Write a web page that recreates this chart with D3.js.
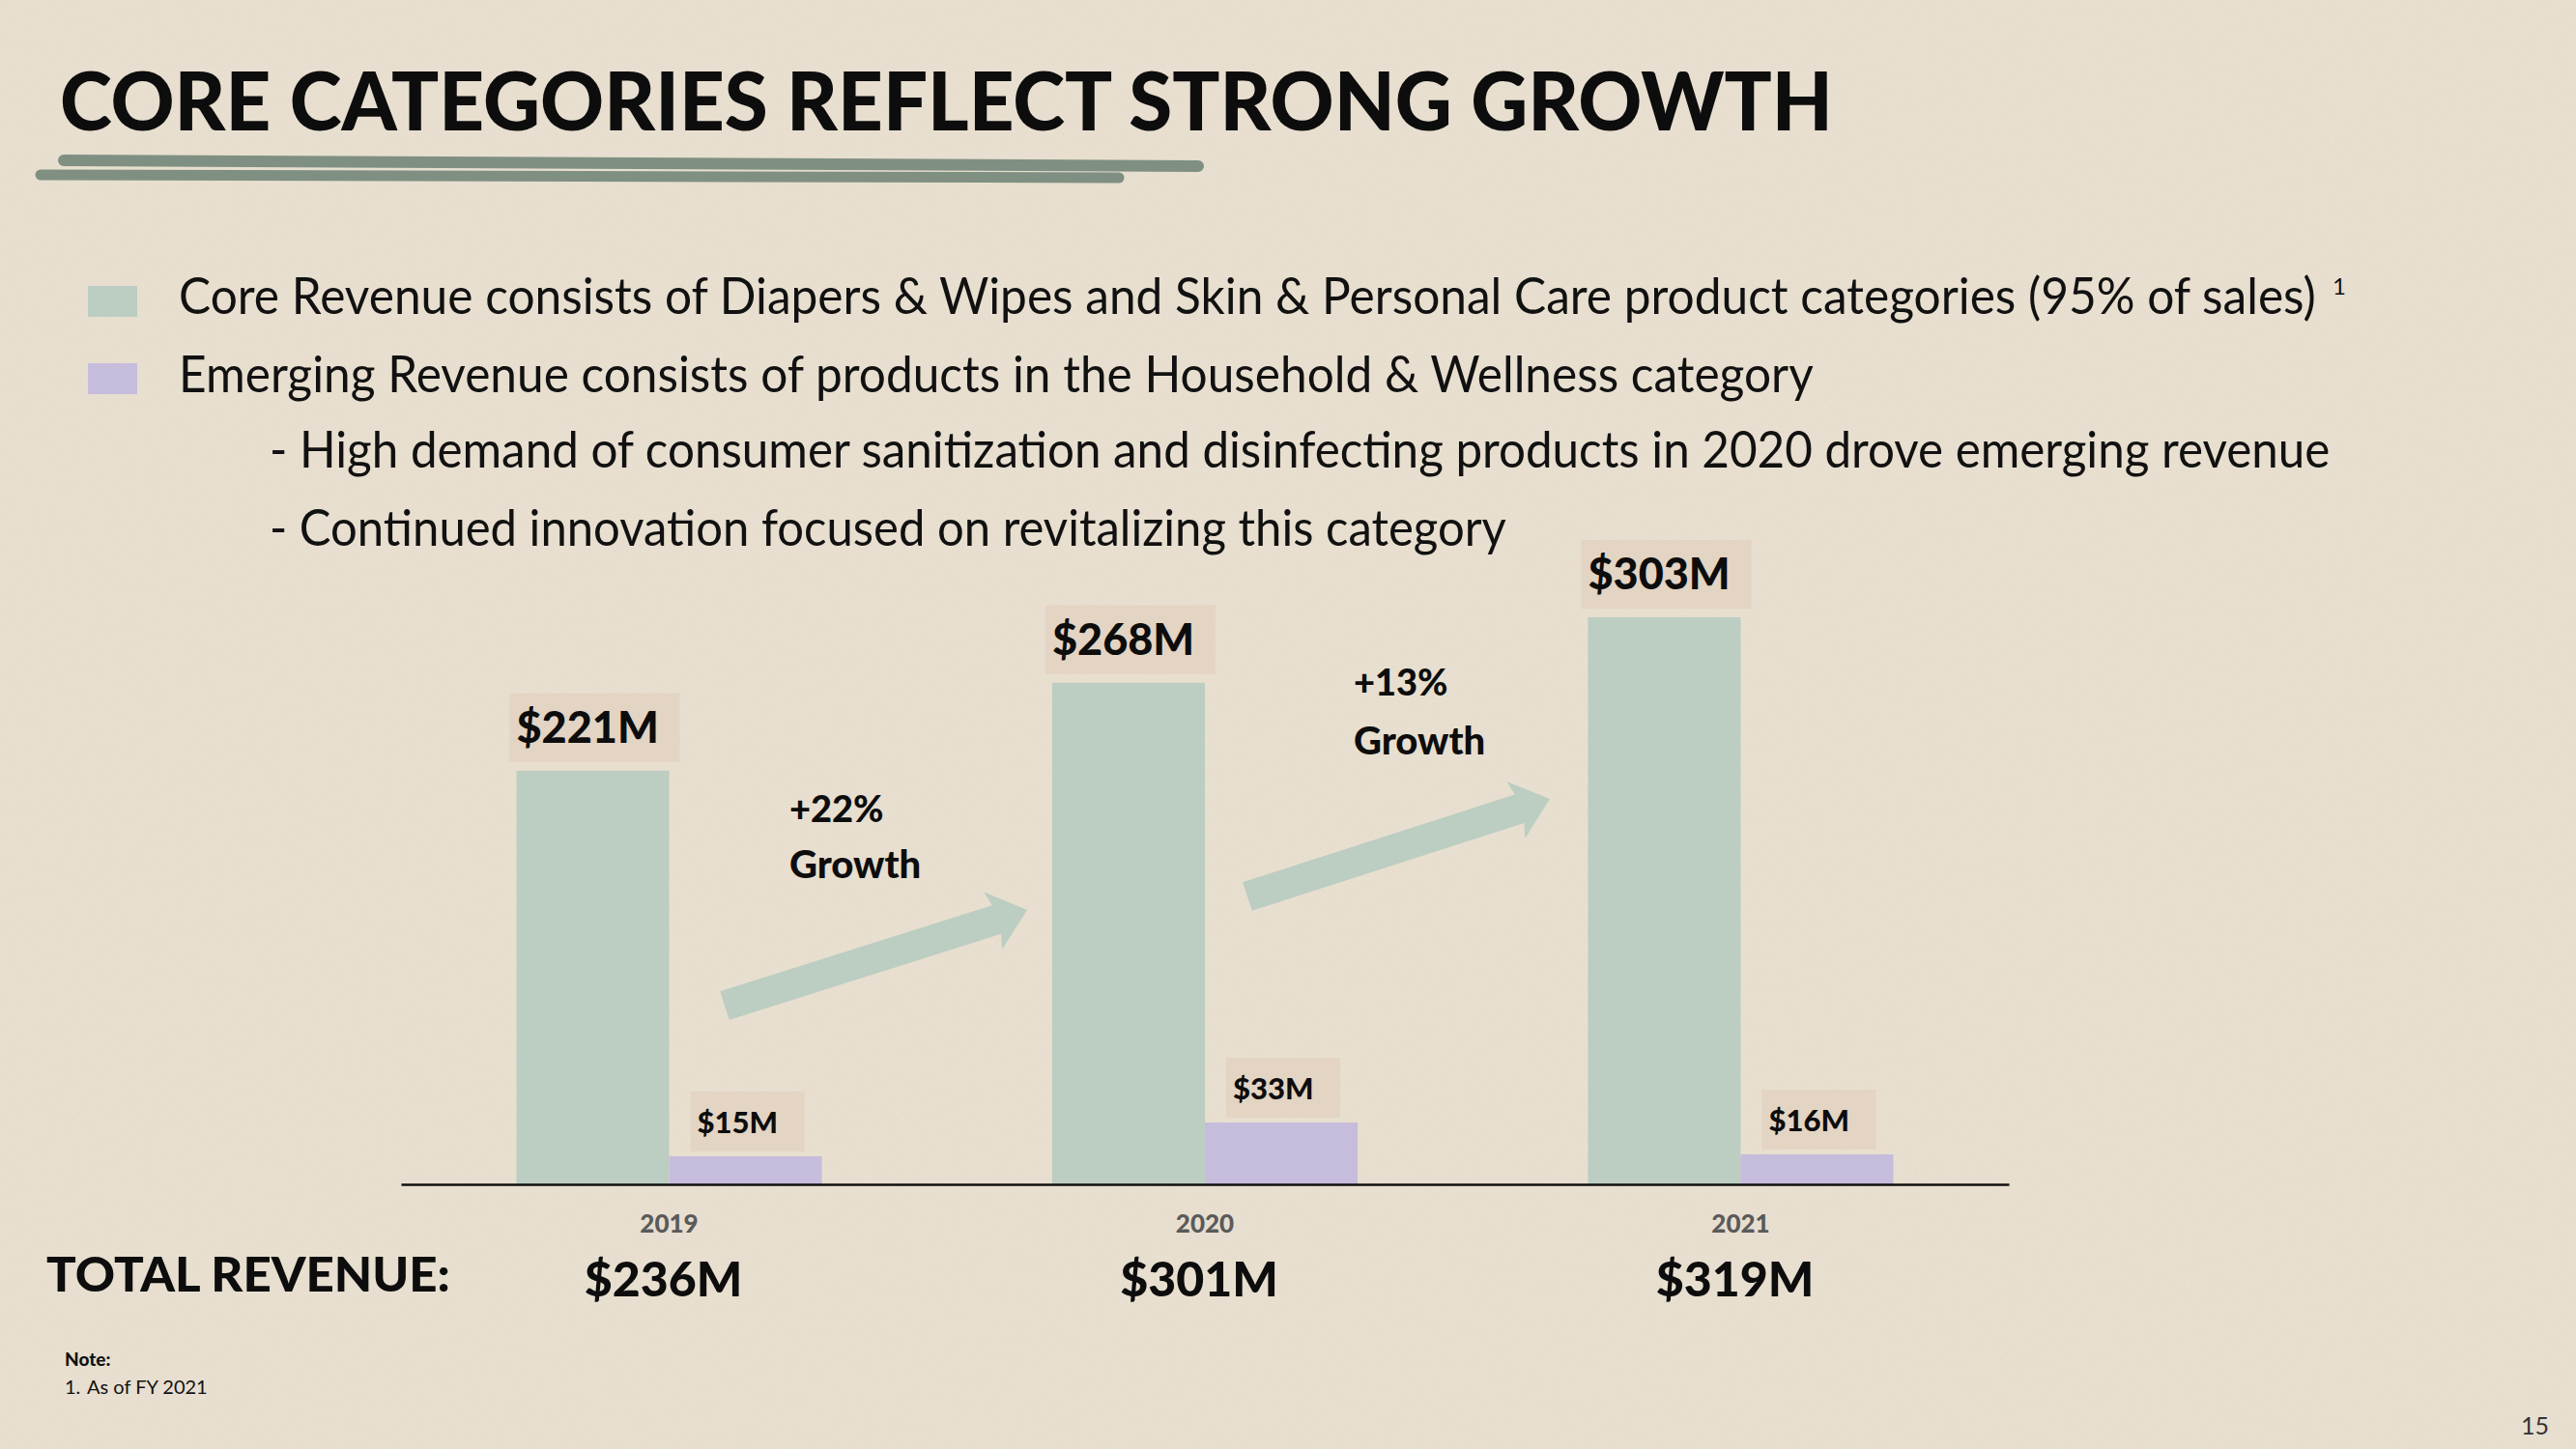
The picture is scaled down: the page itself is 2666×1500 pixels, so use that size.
<!DOCTYPE html>
<html>
<head>
<meta charset="utf-8">
<script src="https://cdn.jsdelivr.net/npm/d3@7"></script>
<style>
  html, body { margin: 0; padding: 0; background: #e9e0d0; }
  svg { display: block; }
</style>
</head>
<body>
<script>
// ---------------- DATA ----------------
const years = ["2019", "2020", "2021"];
const coreRevenue = [221, 268, 303];
const emergingRevenue = [15, 33, 16];
const totalRevenue = [236, 301, 319];
const growthRates = ["+22%", "+13%"];
const seriesKeys = ["core", "emerging"];
const seriesNames = ["Core Revenue", "Emerging Revenue"];
const titleText = "CORE CATEGORIES REFLECT STRONG GROWTH";
const bulletLines = [
  "Core Revenue consists of Diapers & Wipes and Skin & Personal Care product categories (95% of sales)",
  "Emerging Revenue consists of products in the Household & Wellness category",
  "- High demand of consumer sanitization and disinfecting products in 2020 drove emerging revenue",
  "- Continued innovation focused on revitalizing this category"
];
const totalLabel = "TOTAL REVENUE:";
const noteTitle = "Note:";
const noteLines = ["1.", "As of FY 2021"];
const pageNumber = "15";

// ---------------- LAYOUT ----------------
const W = 2666, H = 1500;
const BG = "#e9e0d0";
const CORE = "#bccdc2", EMER = "#c6bcdc", BOX = "#e3d4c3";
const fmt = v => `$${v}M`;

const svg = d3.select("body").append("svg").attr("width", W).attr("height", H);
const defs = svg.append("defs");
const filt = defs.append("filter").attr("id", "tex").attr("x", 0).attr("y", 0)
  .attr("width", "100%").attr("height", "100%");
filt.append("feTurbulence").attr("type", "fractalNoise").attr("baseFrequency", "0.9 0.35")
  .attr("numOctaves", 2).attr("seed", 4).attr("result", "n");
filt.append("feColorMatrix").attr("type", "saturate").attr("values", 0);

svg.append("rect").attr("width", W).attr("height", H).attr("fill", BG);
svg.append("rect").attr("width", W).attr("height", H).attr("filter", "url(#tex)").attr("opacity", 0.07);

// place text at (x,y) and horizontally scale it to a target width
function fitText(sel, x, yy, width) {
  sel.each(function () {
    const n = this.getComputedTextLength();
    const sx = n > 0 ? width / n : 1;
    d3.select(this).attr("x", 0).attr("y", 0)
      .attr("transform", `translate(${x},${yy}) scale(${sx.toFixed(4)},1)`);
  });
}

// Title
svg.append("text")
  .attr("font-family", "Lato").attr("font-weight", 900).attr("font-size", 84)
  .attr("fill", "#0d0d0d").text(titleText).call(fitText, 62, 135, 1835);

// Brush underline
const brush = svg.append("g").attr("stroke", "#7f9082").attr("stroke-linecap", "round").attr("fill", "none");
brush.append("path").attr("d", "M66,166 C400,168 900,170 1240,172").attr("stroke-width", 12);
brush.append("path").attr("d", "M42,181 C400,182 800,183 1158,184").attr("stroke-width", 11);

// Legend squares + bullet text
const legendColor = d3.scaleOrdinal().domain(seriesNames).range([CORE, EMER]);
svg.selectAll("rect.leg").data(seriesNames).join("rect").attr("class", "leg")
  .attr("x", 91).attr("y", (d, i) => 296 + i * 80).attr("width", 51).attr("height", 32)
  .attr("fill", d => legendColor(d));

const bulletPos = [
  { x: 185, y: 325, w: 2212 },
  { x: 185, y: 406, w: 1692 },
  { x: 279, y: 484, w: 2133 },
  { x: 279, y: 565, w: 1280 }
];
svg.selectAll("text.bullet").data(bulletLines).join("text").attr("class", "bullet")
  .attr("font-family", "Lato").attr("font-weight", 400).attr("font-size", 53)
  .attr("fill", "#111").text(d => d)
  .each(function (d, i) { d3.select(this).call(fitText, bulletPos[i].x, bulletPos[i].y, bulletPos[i].w); });
svg.append("text").attr("x", 2414).attr("y", 305).attr("font-family", "Lato").attr("font-weight", 400)
  .attr("font-size", 24).attr("fill", "#111").text("1");

// ---------------- CHART ----------------
const x0 = d3.scaleBand().domain(years).range([415, 2079]).paddingInner(0.43).paddingOuter(0.2155);
const x1 = d3.scaleBand().domain(seriesKeys).range([0, x0.bandwidth()]).padding(0);
const y = d3.scaleLinear().domain([0, 303]).range([1226, 639]);
const color = d3.scaleOrdinal().domain(seriesKeys).range([CORE, EMER]);

const rows = years.map((yr, i) => ({ year: yr, core: coreRevenue[i], emerging: emergingRevenue[i], total: totalRevenue[i] }));

const groups = svg.append("g").selectAll("g.grp").data(rows).join("g").attr("class", "grp")
  .attr("transform", d => `translate(${x0(d.year)},0)`);

groups.selectAll("rect.bar").data(d => seriesKeys.map(k => ({ key: k, value: d[k] }))).join("rect")
  .attr("class", "bar")
  .attr("x", d => x1(d.key)).attr("y", d => y(d.value))
  .attr("width", x1.bandwidth()).attr("height", d => y(0) - y(d.value))
  .attr("fill", d => color(d.key));

// Core labels
groups.append("rect")
  .attr("x", x1("core") - 7).attr("y", d => y(d.core) - 80)
  .attr("width", 176).attr("height", 71).attr("fill", BOX);
groups.append("text")
  .attr("x", x1("core")).attr("y", d => y(d.core) - 29)
  .attr("font-family", "Lato").attr("font-weight", 900).attr("font-size", 45)
  .attr("fill", "#0d0d0d").text(d => fmt(d.core));

// Emerging labels
groups.append("rect")
  .attr("x", x1("emerging") + 22).attr("y", d => y(d.emerging) - 67)
  .attr("width", 118).attr("height", 62).attr("fill", BOX);
groups.append("text")
  .attr("x", x1("emerging") + 29).attr("y", d => y(d.emerging) - 24)
  .attr("font-family", "Lato").attr("font-weight", 900).attr("font-size", 31)
  .attr("fill", "#0d0d0d").text(d => fmt(d.emerging));

// Axis
const axis = d3.axisBottom(x0).tickSize(0).tickPadding(32);
const ax = svg.append("g").attr("transform", `translate(0,${y(0)})`).call(axis);
ax.select(".domain").attr("stroke", "#111").attr("stroke-width", 2.5);
ax.selectAll(".tick text").attr("font-family", "Lato").attr("font-weight", 900)
  .attr("font-size", 26).attr("fill", "#5a5a5a");

// Total revenue
svg.append("text")
  .attr("font-family", "Lato").attr("font-weight", 900).attr("font-size", 49)
  .attr("fill", "#0d0d0d").text(totalLabel).call(fitText, 48, 1337, 418);
svg.selectAll("text.total").data(rows).join("text").attr("class", "total")
  .attr("x", d => x0(d.year) + x0.bandwidth() / 2 - 6).attr("y", 1342)
  .attr("text-anchor", "middle")
  .attr("font-family", "Lato").attr("font-weight", 900).attr("font-size", 50)
  .attr("fill", "#0d0d0d").text(d => fmt(d.total));

// Growth arrows + text (annotation layout)
const arrowLayout = [
  { tail: [750, 1041], tip: [1063, 942], text: [817, 851, 909] },
  { tail: [1291, 928], tip: [1604, 827], text: [1401, 720, 781] }
];
function arrowPath(t, p) {
  const dx = p[0] - t[0], dy = p[1] - t[1];
  const L = Math.hypot(dx, dy), ux = dx / L, uy = dy / L, vx = -uy, vy = ux;
  const hs = 15.5, hh = 31, hl = 33;
  const pts = [[0, -hs], [L - hl, -hs], [L - hl - 4, -hh], [L, 0], [L - hl - 4, hh], [L - hl, hs], [0, hs]];
  return "M" + pts.map(([a, b]) => [t[0] + a * ux + b * vx, t[1] + a * uy + b * vy].map(n => n.toFixed(1)).join(",")).join("L") + "Z";
}
svg.selectAll("path.arrow").data(arrowLayout).join("path").attr("class", "arrow")
  .attr("d", d => arrowPath(d.tail, d.tip)).attr("fill", CORE);

const gt = svg.selectAll("g.growth").data(growthRates).join("g").attr("class", "growth");
gt.append("text").attr("x", (d, i) => arrowLayout[i].text[0]).attr("y", (d, i) => arrowLayout[i].text[1])
  .attr("font-family", "Lato").attr("font-weight", 900).attr("font-size", 38)
  .attr("fill", "#0d0d0d").text(d => d);
gt.append("text").attr("x", (d, i) => arrowLayout[i].text[0]).attr("y", (d, i) => arrowLayout[i].text[2])
  .attr("font-family", "Lato").attr("font-weight", 900).attr("font-size", 40)
  .attr("fill", "#0d0d0d").text("Growth");

// Notes
svg.append("text").attr("x", 67).attr("y", 1414).attr("font-family", "Lato").attr("font-weight", 900)
  .attr("font-size", 19).attr("fill", "#111").text(noteTitle);
svg.append("text").attr("x", 67).attr("y", 1443).attr("font-family", "Lato").attr("font-weight", 400)
  .attr("font-size", 20).attr("fill", "#111").text(noteLines[0]);
svg.append("text").attr("x", 90).attr("y", 1443).attr("font-family", "Lato").attr("font-weight", 400)
  .attr("font-size", 20).attr("fill", "#111").text(noteLines[1]);

// Page number
svg.append("text").attr("x", 2638).attr("y", 1485).attr("text-anchor", "end")
  .attr("font-family", "Lato").attr("font-size", 25).attr("fill", "#333").text(pageNumber);
</script>
</body>
</html>
